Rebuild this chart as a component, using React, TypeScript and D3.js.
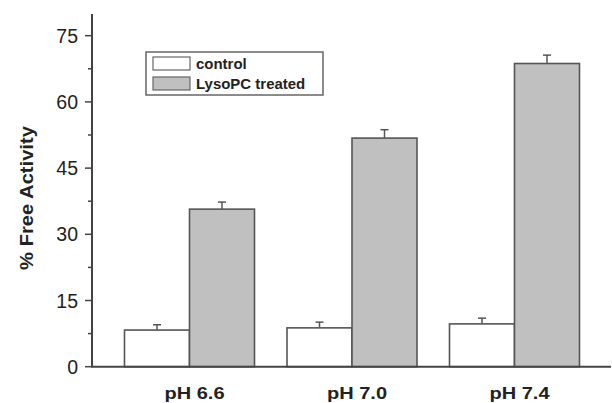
import React from "react";
import * as d3 from "d3";

const categories = ["pH 6.6", "pH 7.0", "pH 7.4"];
const seriesNames = ["control", "LysoPC treated"];
const controlValues = [8.3, 8.8, 9.7];
const controlErrors = [1.2, 1.3, 1.3];
const lysoValues = [35.7, 51.8, 68.7];
const lysoErrors = [1.6, 1.9, 1.9];
const yTicks = [0, 15, 30, 45, 60, 75];
const yMinorTicks = [7.5, 22.5, 37.5, 52.5, 67.5];

const W = 612;
const H = 403;
const axisX = 92;
const axisRight = 611;
const yTop = 14;

export default function App() {
  const y = d3.scaleLinear().domain([0, 75]).range([366.7, 35.7]);
  const x = d3
    .scalePoint()
    .domain(categories)
    .range([189.5, 514.5]);
  const center = (i: number) => x(categories[i]) as number;
  const sub = d3.scaleBand().domain(seriesNames).range([-65, 65]);
  const barW = sub.bandwidth();
  const fills = ["#ffffff", "#c0c0c0"];
  const series = [
    { vals: controlValues, errs: controlErrors },
    { vals: lysoValues, errs: lysoErrors },
  ];
  const font = "'Liberation Sans', Arial, sans-serif";
  const stroke = "#555";

  return (
    <svg width={W} height={H} style={{ position: "absolute", left: 0, top: 0 }}>
      <rect width={W} height={H} fill="#fff" />
      {series.map((s, si) =>
        s.vals.map((v, i) => {
          const bx = center(i) + (sub(seriesNames[si]) as number);
          const cx = bx + barW / 2;
          const top = y(v);
          const errTop = y(v + s.errs[i]);
          return (
            <g key={`${si}-${i}`}>
              <line x1={cx} x2={cx} y1={top} y2={errTop} stroke={stroke} strokeWidth={1.5} />
              <line x1={cx - 4} x2={cx + 4} y1={errTop} y2={errTop} stroke={stroke} strokeWidth={1.5} />
              <rect
                x={bx}
                y={top}
                width={barW}
                height={y(0) - top}
                fill={fills[si]}
                stroke={stroke}
                strokeWidth={1.6}
              />
            </g>
          );
        })
      )}
      <line x1={axisX} x2={axisX} y1={yTop} y2={y(0)} stroke="#444" strokeWidth={2} />
      <line x1={axisX - 1} x2={axisRight} y1={y(0)} y2={y(0)} stroke="#444" strokeWidth={2} />
      {yTicks.map((t) => (
        <g key={t}>
          <line x1={axisX - 7} x2={axisX} y1={y(t)} y2={y(t)} stroke="#444" strokeWidth={1.5} />
          <text
            x={78}
            y={y(t)}
            dy="0.36em"
            textAnchor="end"
            fontFamily={font}
            fontSize={19.5}
            fill="#222"
          >
            {t}
          </text>
        </g>
      ))}
      {yMinorTicks.map((t) => (
        <line key={t} x1={axisX - 4} x2={axisX} y1={y(t)} y2={y(t)} stroke="#444" strokeWidth={1.5} />
      ))}
      {categories.map((c, i) => (
        <text
          key={c}
          transform={`translate(${center(i) + 5},398.5) scale(1.25,1)`}
          textAnchor="middle"
          fontFamily={font}
          fontSize={16}
          fontWeight="bold"
          fill="#222"
        >
          {c}
        </text>
      ))}
      <text
        transform={`translate(33,198) rotate(-90) scale(1.12,1)`}
        textAnchor="middle"
        fontFamily={font}
        fontSize={18}
        fontWeight="bold"
        fill="#222"
      >
        % Free Activity
      </text>
      <rect x={146} y={52} width={177} height={43} fill="#fff" stroke="#666" strokeWidth={1.5} />
      {seriesNames.map((n, i) => (
        <g key={n}>
          <rect
            x={153}
            y={57 + i * 20}
            width={37}
            height={13}
            fill={fills[i]}
            stroke="#666"
            strokeWidth={1.2}
          />
          <text
            transform={`translate(196,${68.5 + i * 20}) scale(1.07,1)`}
            fontFamily={font}
            fontSize={14}
            fontWeight="bold"
            fill="#222"
          >
            {n}
          </text>
        </g>
      ))}
    </svg>
  );
}
